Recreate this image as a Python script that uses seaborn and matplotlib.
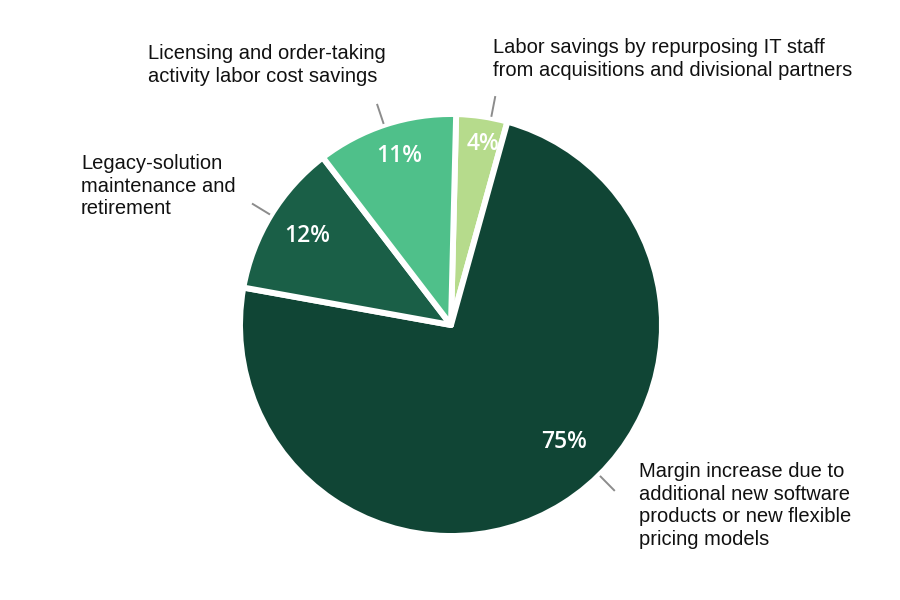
import numpy as np
import matplotlib
matplotlib.use("Agg")
import matplotlib.pyplot as plt
import seaborn as sns

# ---- data ----
categories = [
    "Labor savings by repurposing IT staff\nfrom acquisitions and divisional partners",
    "Margin increase due to\nadditional new software\nproducts or new flexible\npricing models",
    "Legacy-solution\nmaintenance and\nretirement",
    "Licensing and order-taking\nactivity labor cost savings",
]
values = [4, 75, 12, 11]
pct_labels = ["4%", "75%", "12%", "11%"]
colors = ["#b6db8c", "#104535", "#1a5f47", "#4fc08a"]

sns.set_theme(style="white")
plt.rcParams["font.family"] = ["Liberation Sans", "DejaVu Sans"]

W, H = 900, 600
cx, cy, R = 451, 325, 211  # pie centre / radius in pixels

fig = plt.figure(figsize=(9, 6), dpi=100)
ax = fig.add_axes([0, 0, 1, 1])

wedges, _ = ax.pie(
    values,
    colors=sns.color_palette(colors),
    startangle=88.6,
    counterclock=False,
    radius=1.0,
    wedgeprops=dict(edgecolor="white", linewidth=4.3, joinstyle="round"),
)
ax.set_aspect("auto")
ax.set_xlim(-cx / R, (W - cx) / R)
ax.set_ylim(-(H - cy) / R, cy / R)
ax.axis("off")

# label placement (angle offsets from wedge middle, radii)
angle_shift = [-1.5, 12.0, -0.5, -1.0]
pct_radius = [0.87, 0.77, 0.80, 0.84]
leader_shift = [-2.5, 12.5, 0.0, 0.5]

for w, lab, sh, pr, ls in zip(wedges, pct_labels, angle_shift, pct_radius, leader_shift):
    mid = 0.5 * (w.theta1 + w.theta2)
    a = np.deg2rad(mid + sh)
    ax.text(pr * np.cos(a), pr * np.sin(a), lab, ha="center", va="center",
            color="white", fontsize=16.5, fontweight="semibold",
            family=["Open Sans", "DejaVu Sans"])
    b = np.deg2rad(mid + ls)
    ax.plot([1.005 * np.cos(b), 1.105 * np.cos(b)],
            [1.005 * np.sin(b), 1.105 * np.sin(b)],
            color="#8c8c8c", lw=1.4, solid_capstyle="butt")

# category labels (pixel positions: left, top)
label_pos = [(493, 38), (639, 462), (81, 154), (148, 44)]
for txt, (px, py) in zip(categories, label_pos):
    fig.text(px / W, 1 - py / H, txt, ha="left", va="top", fontsize=14.5,
             color="#111111", linespacing=1.25)

fig.savefig("out.png", dpi=100, facecolor="white")
